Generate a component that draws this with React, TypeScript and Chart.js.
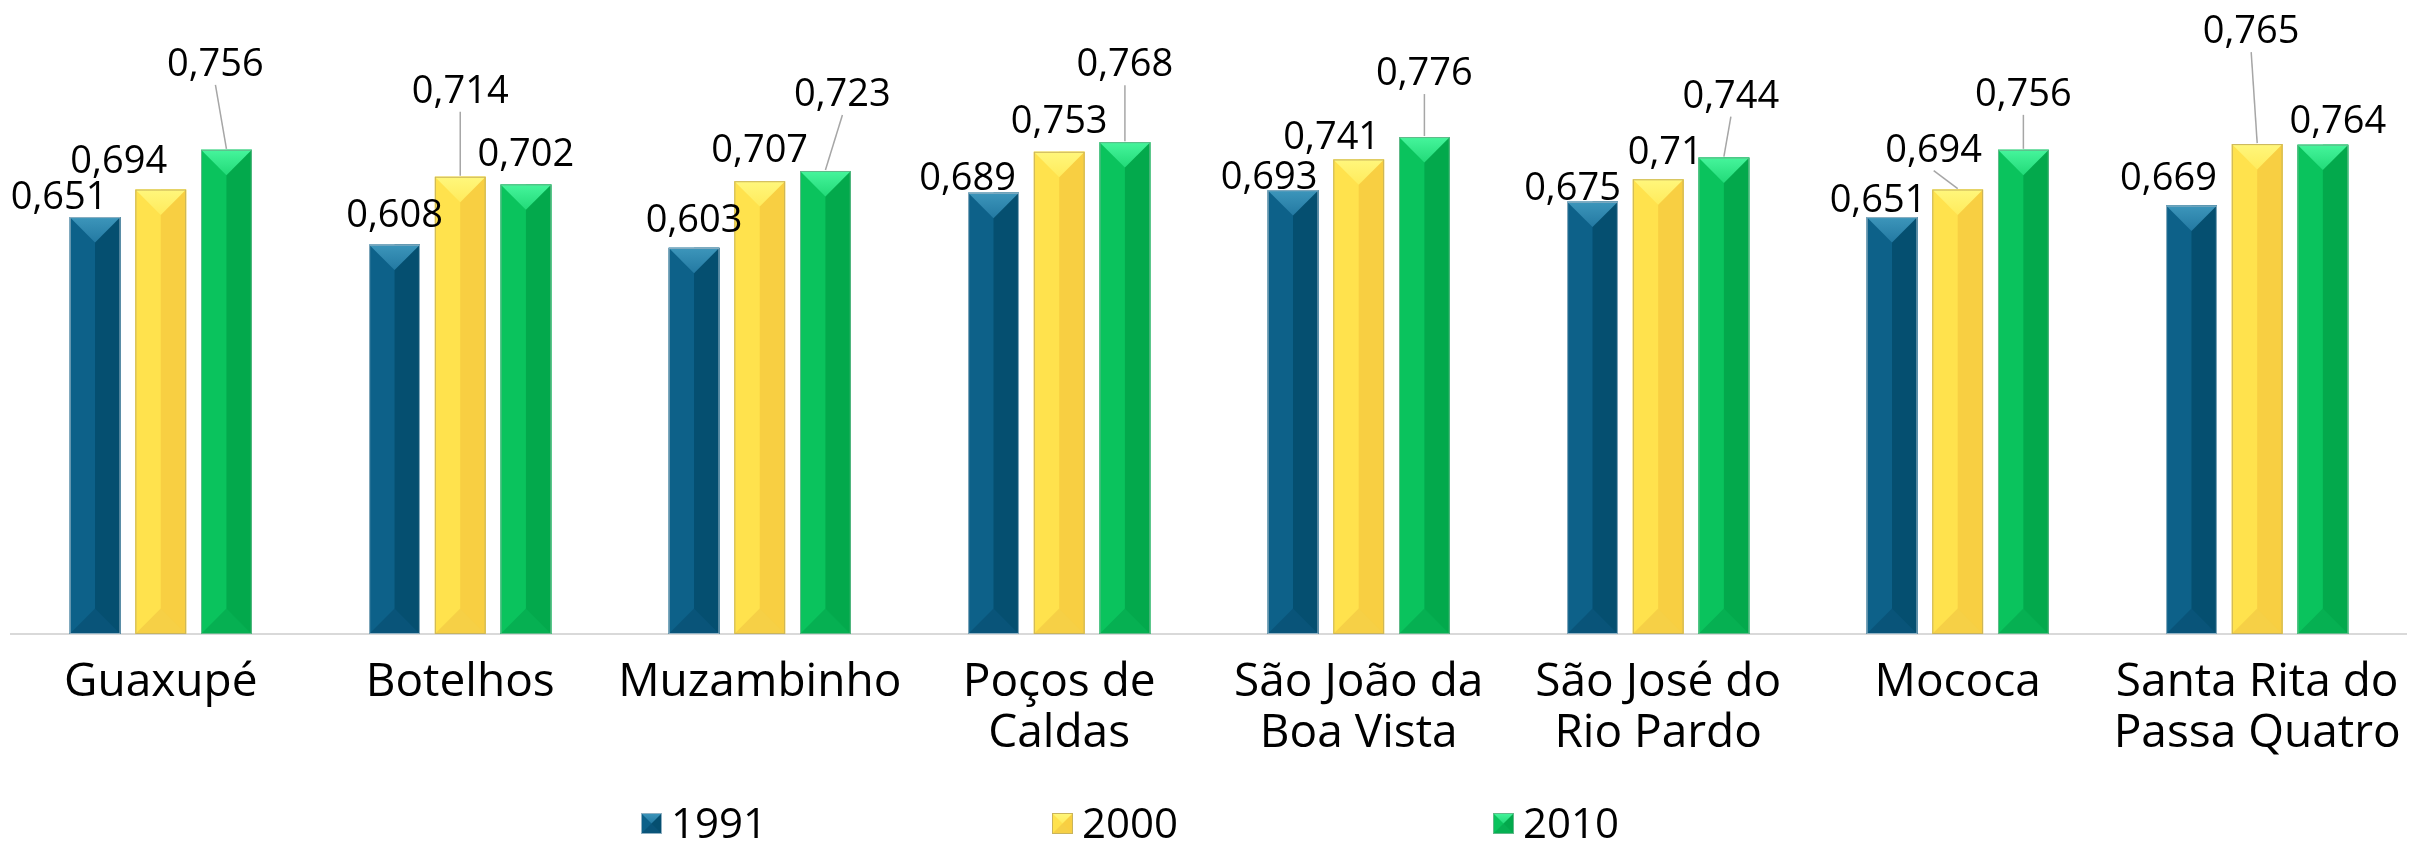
import React, { useEffect, useRef } from "react";
import { Chart, registerables } from "chart.js";
Chart.register(...registerables);

const categories: string[][] = [
  ["Guaxupé"],
  ["Botelhos"],
  ["Muzambinho"],
  ["Poços de", "Caldas"],
  ["São João da", "Boa Vista"],
  ["São José do", "Rio Pardo"],
  ["Mococa"],
  ["Santa Rita do", "Passa Quatro"],
];
const seriesNames = ["1991", "2000", "2010"];
const values1991 = [0.651, 0.608, 0.603, 0.689, 0.693, 0.675, 0.651, 0.669];
const values2000 = [0.694, 0.714, 0.707, 0.753, 0.741, 0.71, 0.694, 0.765];
const values2010 = [0.756, 0.702, 0.723, 0.768, 0.776, 0.744, 0.756, 0.764];

// value-label placement: [dx from bar centre, baseline rise above bar top, leader line]
const labelPlace1991: [number, number, boolean][] = [
  [-36, 8, false], [0, 18, false], [0, 16, false], [-26, 3, false],
  [-24, 1, false], [-20, 2, false], [-14, 5, false], [-23, 16, false],
];
const labelPlace2000: [number, number, boolean][] = [
  [-42, 17, false], [0, 74, true], [0, 19, false], [0, 19, false],
  [-27, 10, false], [7, 15, false], [-24, 28, true], [-6, 101, true],
];
const labelPlace2010: [number, number, boolean][] = [
  [-11, 74, true], [0, 18, false], [17, 65, true], [0, 66, true],
  [0, 52, true], [7, 50, true], [0, 44, true], [15, 12, false],
];
const legendItemX = [641, 1052, 1493];

const FONT = "'Open Sans', sans-serif";

type Pal = { left: string; right: string; top1: string; top2: string; bottom: string; border: string };
const palettes: Pal[] = [
  { left: "#0d6189", right: "#054f70", top1: "#3d96bb", top2: "#2379a2", bottom: "#095479", border: "#8fb0c2" },
  { left: "#ffe24d", right: "#f8cf42", top1: "#fff77c", top2: "#ffeb5c", bottom: "#f6d046", border: "#c9b45c" },
  { left: "#0ac35d", right: "#03a94c", top1: "#46f59c", top2: "#22da78", bottom: "#06b052", border: "#62b98a" },
];

function drawBevel(ctx: CanvasRenderingContext2D, l: number, t: number, w: number, h: number, p: Pal) {
  const cx = l + w / 2;
  const d = Math.min(w / 2, h / 2);
  ctx.save();
  ctx.fillStyle = p.left;
  ctx.fillRect(l, t, w, h);
  ctx.fillStyle = p.right;
  ctx.fillRect(cx, t, w / 2, h);
  ctx.beginPath();
  ctx.moveTo(l, t + h);
  ctx.lineTo(l + w, t + h);
  ctx.lineTo(cx, t + h - d);
  ctx.closePath();
  ctx.fillStyle = p.bottom;
  ctx.fill();
  const g = ctx.createLinearGradient(0, t, 0, t + d);
  g.addColorStop(0, p.top1);
  g.addColorStop(1, p.top2);
  ctx.beginPath();
  ctx.moveTo(l, t);
  ctx.lineTo(l + w, t);
  ctx.lineTo(cx, t + d);
  ctx.closePath();
  ctx.fillStyle = g;
  ctx.fill();
  ctx.strokeStyle = p.border;
  ctx.lineWidth = 1;
  ctx.strokeRect(l + 0.5, t + 0.5, w - 1, h - 1);
  ctx.restore();
}

const bevelPlugin = {
  id: "bevel",
  afterDatasetsDraw(chart: any) {
    const ctx = chart.ctx as CanvasRenderingContext2D;
    const places = [labelPlace1991, labelPlace2000, labelPlace2010];
    chart.data.datasets.forEach((ds: any, di: number) => {
      const meta = chart.getDatasetMeta(di);
      meta.data.forEach((bar: any) => {
        const { x, y, base, width } = bar.getProps(["x", "y", "base", "width"], true);
        drawBevel(ctx, x - width / 2, y, width, base - y, palettes[di]);
      });
    });
    chart.data.datasets.forEach((ds: any, di: number) => {
      const meta = chart.getDatasetMeta(di);
      meta.data.forEach((bar: any, i: number) => {
        const { x, y } = bar.getProps(["x", "y"], true);
        const [dx, rise, leader] = places[di][i];
        const lx = x + dx;
        const ly = y - rise;
        ctx.save();
        if (leader) {
          ctx.strokeStyle = "#a6a6a6";
          ctx.lineWidth = 1.5;
          ctx.beginPath();
          ctx.moveTo(lx, ly + 9);
          ctx.lineTo(x, y - 1);
          ctx.stroke();
        }
        ctx.fillStyle = "#000";
        ctx.font = `38px ${FONT}`;
        ctx.textAlign = "center";
        ctx.textBaseline = "alphabetic";
        ctx.fillText(String(ds.data[i]).replace(".", ","), lx, ly);
        ctx.restore();
      });
    });
  },
  afterDraw(chart: any) {
    const ctx = chart.ctx as CanvasRenderingContext2D;
    ctx.save();
    ctx.font = `42px ${FONT}`;
    ctx.textBaseline = "alphabetic";
    ctx.textAlign = "left";
    seriesNames.forEach((name, i) => {
      const x = legendItemX[i];
      drawBevel(ctx, x, 813, 21, 21, palettes[i]);
      ctx.fillStyle = "#000";
      ctx.fillText(name, x + 30, 838);
    });
    ctx.restore();
  },
};

export default function App() {
  const ref = useRef<HTMLCanvasElement>(null);
  useEffect(() => {
    if (!ref.current) return;
    const chart = new Chart(ref.current, {
      type: "bar",
      data: {
        labels: categories,
        datasets: [
          { label: seriesNames[0], data: values1991, backgroundColor: palettes[0].left },
          { label: seriesNames[1], data: values2000, backgroundColor: palettes[1].left },
          { label: seriesNames[2], data: values2010, backgroundColor: palettes[2].left },
        ],
      },
      options: {
        animation: false,
        responsive: false,
        layout: { padding: { left: 11, right: 5, top: 0, bottom: 0 } },
        datasets: { bar: { categoryPercentage: 0.658, barPercentage: 0.773 } } as any,
        plugins: { legend: { display: false }, tooltip: { enabled: false } },
        scales: {
          x: {
            grid: { display: false, drawTicks: false },
            border: { display: true, color: "#d9d9d9", width: 2 },
            ticks: {
              font: { family: FONT, size: 46, lineHeight: 1.1 },
              color: "#000",
              padding: 24,
              maxRotation: 0,
              autoSkip: false,
            },
            afterFit: (a: any) => { a.height = 207; },
          },
          y: { display: false, min: 0, max: 0.99 },
        },
      },
      plugins: [bevelPlugin],
    });
    return () => chart.destroy();
  }, []);
  return (
    <div style={{ position: "fixed", left: 0, top: 0, width: 2425, height: 841, background: "#fff" }}>
      <canvas ref={ref} width={2425} height={841} style={{ width: 2425, height: 841 }} />
    </div>
  );
}
